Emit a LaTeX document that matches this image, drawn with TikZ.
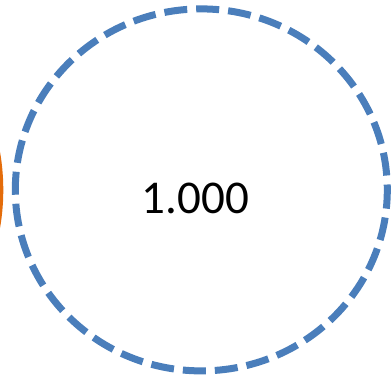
\documentclass[tikz,border=0pt]{standalone}
\usepackage{fontspec}
\setmainfont{Carlito}
\definecolor{cblue}{HTML}{4A7EBB}
\definecolor{corange}{HTML}{E46C0A}
\begin{document}
\begin{tikzpicture}[x=1pt,y=1pt,
  ring/.style={draw=cblue,line width=7pt,dash pattern=on 23pt off 9pt,dash phase=17.6pt},
  oring/.style={fill=corange}]
\useasboundingbox (0,0) rectangle (391,376);
\clip (0,0) rectangle (391,376);
\fill[oring] (-216.7,186) circle (220);
\draw[ring] (201.3,186.1) ellipse [x radius=186, y radius=181];
\node[font=\fontsize{47}{56}\selectfont,inner sep=0,anchor=base] (t) at (195.5,163) {1.000};
\end{tikzpicture}
\end{document}
